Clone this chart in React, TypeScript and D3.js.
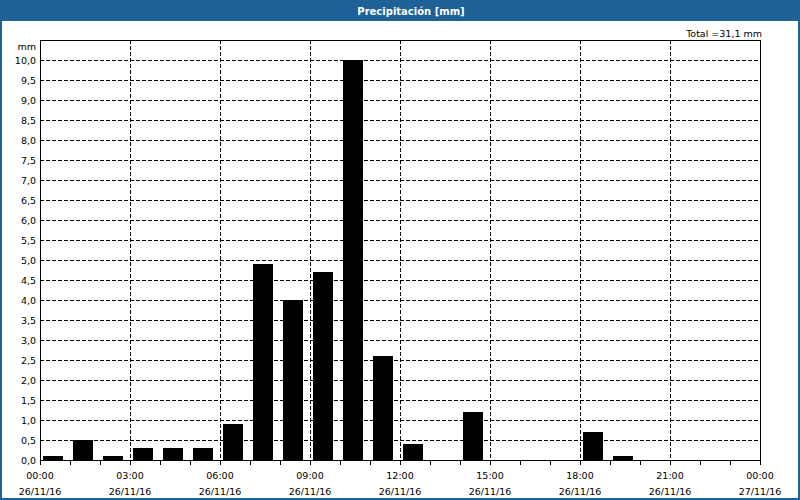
import React from "react";
import * as d3 from "d3";

const hours = d3.range(24);
const values = [0.1, 0.5, 0.1, 0.3, 0.3, 0.3, 0.9, 4.9, 4.0, 4.7, 10.0, 2.6, 0.4, 0, 1.2, 0, 0, 0, 0.7, 0.1, 0, 0, 0, 0];
const yTicks = d3.range(0, 10.01, 0.5);
const xTickHours = [0, 3, 6, 9, 12, 15, 18, 21, 24];
const xTimeLabels = ["00:00", "03:00", "06:00", "09:00", "12:00", "15:00", "18:00", "21:00", "00:00"];
const xDateLabels = ["26/11/16", "26/11/16", "26/11/16", "26/11/16", "26/11/16", "26/11/16", "26/11/16", "26/11/16", "27/11/16"];
const title = "Precipitación [mm]";
const totalLabel = "Total =31,1 mm";
const unitLabel = "mm";

const W = 800, H = 500;
const L = 40, R = 760, T = 40, B = 460;
const font = "'DejaVu Sans', Verdana, sans-serif";
const blue = "#1d6196";
const fs = 9.5;

export default function App() {
  const x = d3.scaleLinear().domain([0, 24]).range([L, R]);
  const y = d3.scaleLinear().domain([0, 10.5]).range([B, T]);
  const fmt = (v: number) => v.toFixed(1).replace(".", ",");
  const slot = x(1) - x(0);
  const barW = slot * 0.68;
  const barOff = slot * 0.1;
  return (
    <svg width={W} height={H} style={{ position: "absolute", left: 0, top: 0 }} shapeRendering="crispEdges">
      <rect x={0} y={0} width={W} height={H} fill="#ffffff" />
      <rect x={0} y={0} width={W} height={21} fill={blue} />
      <rect x={1} y={1} width={W - 2} height={H - 2} fill="none" stroke={blue} strokeWidth={2} />
      <text x={411} y={14.5} textAnchor="middle" fill="#ffffff" fontFamily={font} fontSize={10} fontWeight="bold">{title}</text>
      <text x={762} y={36.5} textAnchor="end" fill="#000" fontFamily={font} fontSize={fs}>{totalLabel}</text>
      <text x={36} y={50} textAnchor="end" fill="#000" fontFamily={font} fontSize={fs}>{unitLabel}</text>
      {yTicks.filter(v => v > 0).map(v => (
        <line key={"gy" + v} x1={L} x2={R} y1={Math.round(y(v)) + 0.5} y2={Math.round(y(v)) + 0.5} stroke="#000" strokeDasharray="4,2" />
      ))}
      {xTickHours.filter(h => h > 0 && h < 24).map(h => (
        <line key={"gx" + h} x1={Math.round(x(h)) + 0.5} x2={Math.round(x(h)) + 0.5} y1={T} y2={B} stroke="#000" strokeDasharray="4,2" />
      ))}
      {hours.map((h, i) => values[i] > 0 ? (
        <rect key={"b" + h} x={Math.round(x(h) + barOff)} width={Math.round(barW)} y={Math.round(y(values[i]))} height={Math.round(B - y(values[i]))} fill="#000" />
      ) : null)}
      <rect x={L + 0.5} y={T + 0.5} width={R - L} height={B - T} fill="none" stroke="#000" />
      {d3.range(25).map(h => (
        <line key={"t" + h} x1={Math.round(x(h)) + 0.5} x2={Math.round(x(h)) + 0.5} y1={B} y2={B + 5} stroke="#000" />
      ))}
      {yTicks.map(v => (
        <text key={"yl" + v} x={36} y={y(v) + 3.5} textAnchor="end" fill="#000" fontFamily={font} fontSize={fs}>{fmt(v)}</text>
      ))}
      {xTickHours.map((h, i) => (
        <g key={"xl" + h}>
          <text x={x(h)} y={478.5} textAnchor="middle" fill="#000" fontFamily={font} fontSize={fs}>{xTimeLabels[i]}</text>
          <text x={x(h)} y={494.5} textAnchor="middle" fill="#000" fontFamily={font} fontSize={fs}>{xDateLabels[i]}</text>
        </g>
      ))}
    </svg>
  );
}
